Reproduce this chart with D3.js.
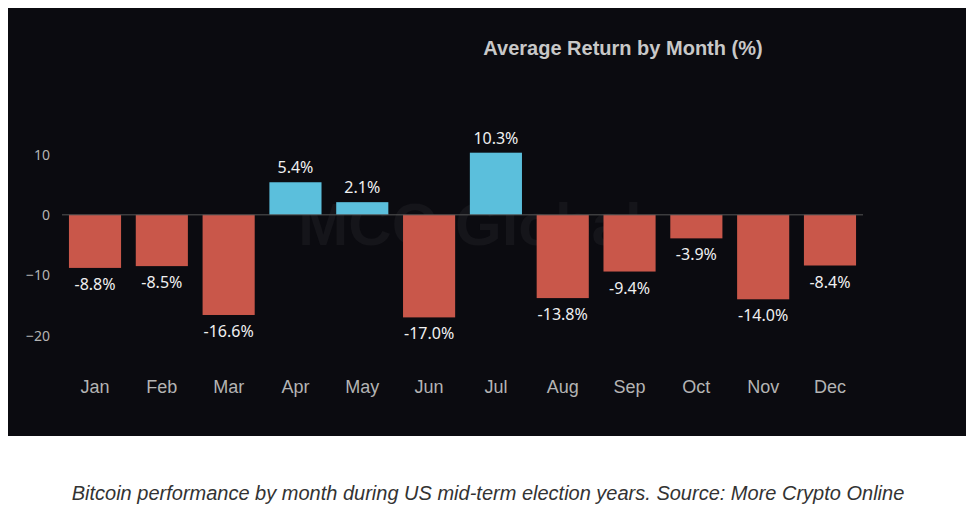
<!DOCTYPE html>
<html>
<head>
<meta charset="utf-8">
<script src="https://cdn.jsdelivr.net/npm/d3@7"></script>
<style>
  body { margin: 0; background: #fff; }
  svg text { font-family: "Noto Sans", "Open Sans", sans-serif; }
</style>
</head>
<body>
<svg id="chart" width="971" height="512"></svg>
<script>
const months = ["Jan", "Feb", "Mar", "Apr", "May", "Jun", "Jul", "Aug", "Sep", "Oct", "Nov", "Dec"];
const returns = [-8.8, -8.5, -16.6, 5.4, 2.1, -17.0, 10.3, -13.8, -9.4, -3.9, -14.0, -8.4];
const yTicks = [10, 0, -10, -20];

const svg = d3.select("#chart");

// dark panel
svg.append("rect").attr("x", 8).attr("y", 8).attr("width", 958).attr("height", 428).attr("fill", "#0b0b10");

var x = d3.scaleBand().domain(months).range([61.6, 863.4]).paddingInner(0.22).paddingOuter(0.11);
var y = d3.scaleLinear().domain([-20, 10]).range([335.5, 154.5]);

// faint watermark
svg.append("text")
  .attr("x", 470).attr("y", 245)
  .attr("text-anchor", "middle")
  .style("font-family", "Liberation Sans, sans-serif")
  .style("font-size", "60px").style("font-weight", "bold")
  .style("fill", "#15151a")
  .text("MCO Global");

// title
svg.append("text")
  .attr("x", 623).attr("y", 55)
  .attr("text-anchor", "middle")
  .style("font-family", "Liberation Sans, Arial, sans-serif")
  .style("font-size", "20px").style("font-weight", "bold")
  .style("fill", "#c8c8c8")
  .text("Average Return by Month (%)");

// y axis labels
svg.selectAll(".ytick")
  .data(yTicks)
  .enter()
  .append("text")
  .attr("class", "ytick")
  .attr("x", 50)
  .attr("y", d => y(d) + 5)
  .attr("text-anchor", "end")
  .style("font-size", "14px")
  .style("fill", "#b4b4b4")
  .text(d => d < 0 ? "\u2212" + Math.abs(d) : d);

// bars
svg.selectAll(".bar")
  .data(returns)
  .enter()
  .append("rect")
  .attr("class", "bar")
  .attr("x", (d, i) => x(months[i]))
  .attr("width", x.bandwidth())
  .attr("y", d => y(Math.max(0, d)))
  .attr("height", d => Math.abs(y(d) - y(0)))
  .attr("fill", d => d >= 0 ? "#5bbfdc" : "#c9574a");

// zero line
svg.append("line")
  .attr("x1", 62).attr("x2", 863)
  .attr("y1", y(0)).attr("y2", y(0))
  .attr("stroke", "#555").attr("stroke-width", 1);

// value labels
svg.selectAll(".val")
  .data(returns)
  .enter()
  .append("text")
  .attr("class", "val")
  .attr("x", (d, i) => x(months[i]) + x.bandwidth() / 2)
  .attr("y", d => d >= 0 ? y(d) - 9 : y(d) + 22)
  .attr("text-anchor", "middle")
  .style("font-size", "16px")
  .style("fill", "#f0f0f0")
  .text(d => d.toFixed(1) + "%");

// month labels
svg.selectAll(".month")
  .data(months)
  .enter()
  .append("text")
  .attr("class", "month")
  .attr("x", d => x(d) + x.bandwidth() / 2)
  .attr("y", 393)
  .attr("text-anchor", "middle")
  .style("font-family", "Liberation Sans, Arial, sans-serif")
  .style("font-size", "18px")
  .style("fill", "#b4b4b4")
  .text(d => d);

// caption
svg.append("text")
  .attr("x", 488).attr("y", 500)
  .attr("text-anchor", "middle")
  .style("font-family", "Liberation Sans, Arial, sans-serif")
  .style("font-size", "20px").style("font-style", "italic")
  .style("fill", "#333")
  .text("Bitcoin performance by month during US mid-term election years. Source: More Crypto Online");
</script>
</body>
</html>
